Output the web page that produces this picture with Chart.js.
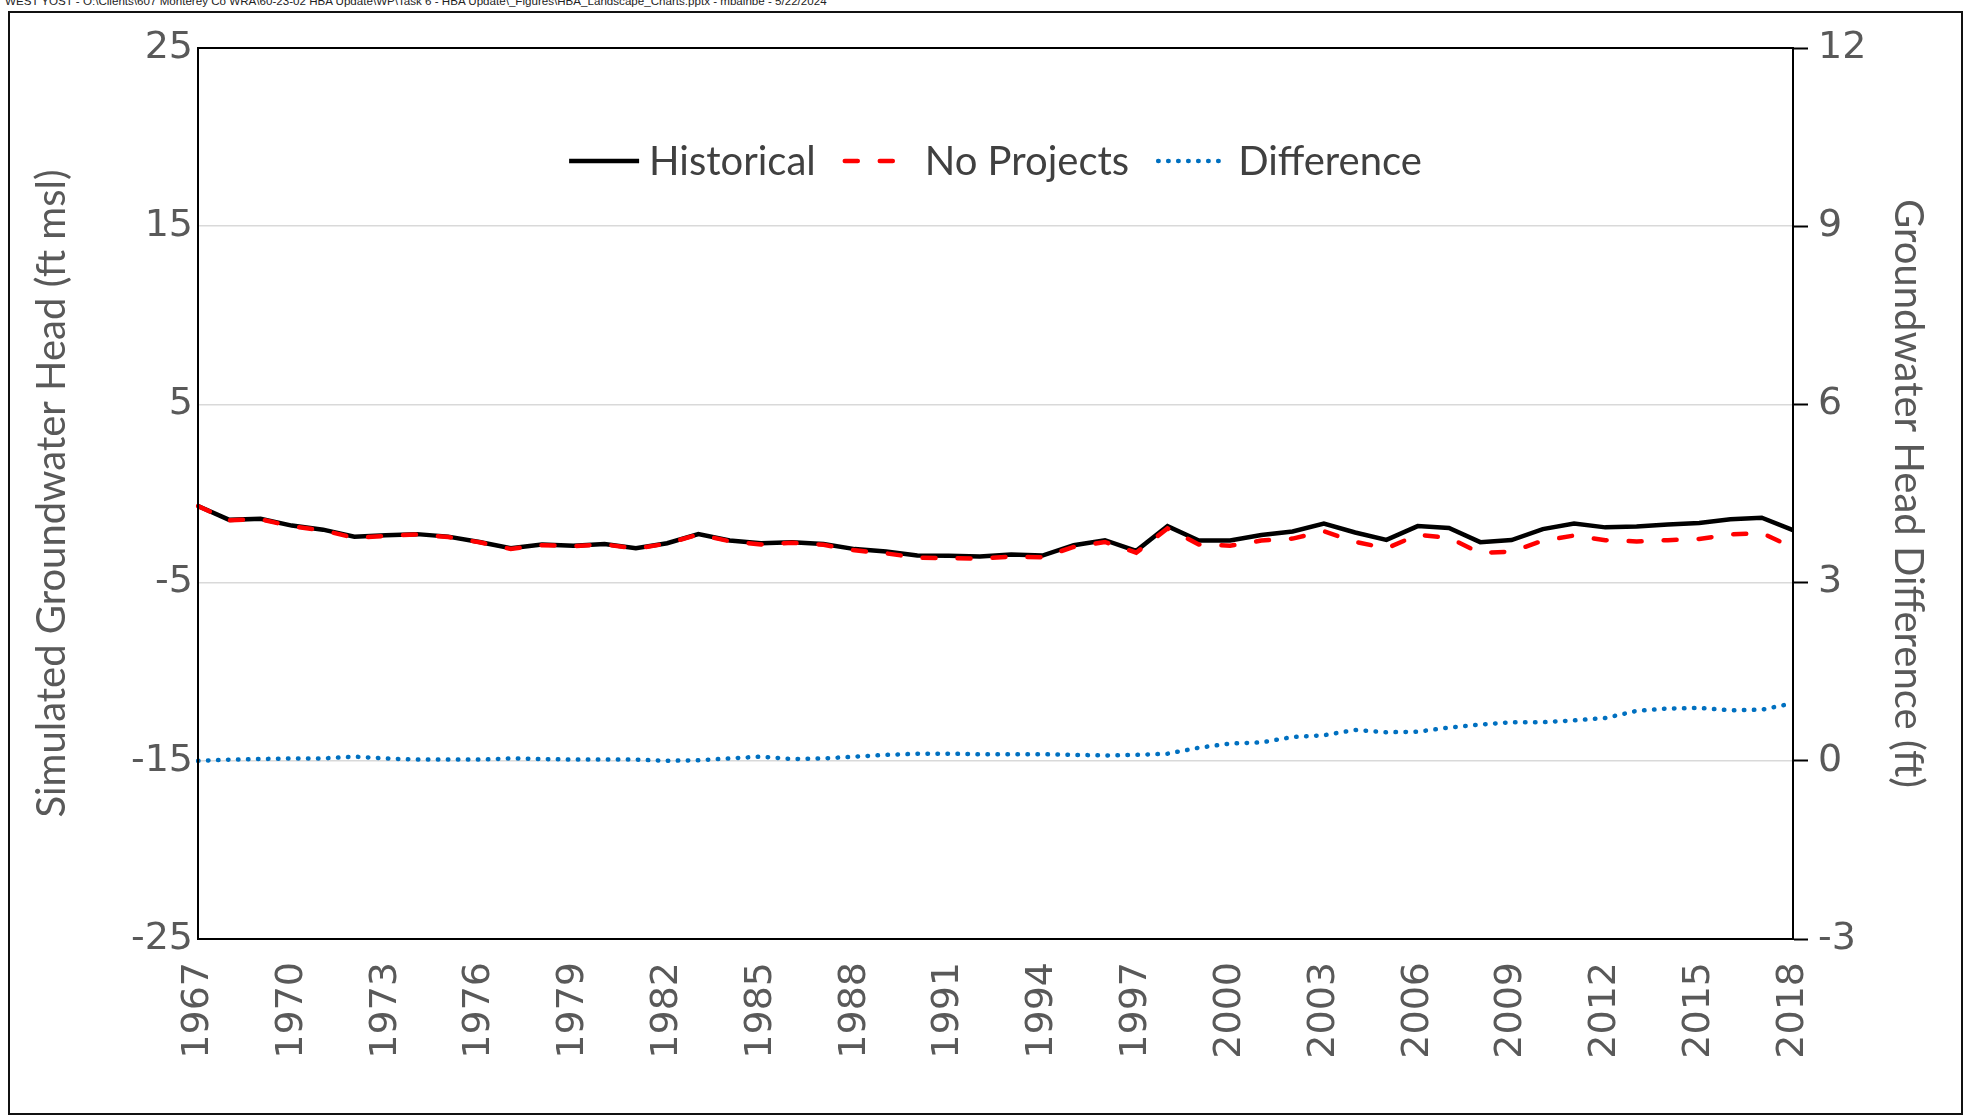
<!DOCTYPE html>
<html>
<head>
<meta charset="utf-8">
<title>Simulated Groundwater Head</title>
<script src="https://cdn.jsdelivr.net/npm/chart.js@4.4.1/dist/chart.umd.min.js"></script>
<style>
  body { margin: 0; background: #fff; }
  #page { position: relative; width: 1973px; height: 1120px; overflow: hidden; background: #fff; }
  #stamp { position: absolute; left: 5px; top: -6px; font: 11.6px "Liberation Sans Narrow", "Liberation Sans", sans-serif; color: #222; white-space: nowrap; }
  #frame { position: absolute; left: 8px; top: 11px; width: 1951px; height: 1100px; border: 2px solid #111; }
  #headChart { position: absolute; left: 0; top: 0; }
</style>
</head>
<body>
<div id="page">
  <div id="stamp">WEST YOST - O:\Clients\607 Monterey Co WRA\60-23-02 HBA Update\WP\Task 6 - HBA Update\_Figures\HBA_Landscape_Charts.pptx - mbainbe - 5/22/2024</div>
  <div id="frame"></div>
  <canvas id="headChart" width="1973" height="1120"></canvas>
</div>
<script>
// years of simulation
const years = ['1967', '1968', '1969', '1970', '1971', '1972', '1973', '1974', '1975', '1976',
  '1977', '1978', '1979', '1980', '1981', '1982', '1983', '1984', '1985', '1986',
  '1987', '1988', '1989', '1990', '1991', '1992', '1993', '1994', '1995', '1996',
  '1997', '1998', '1999', '2000', '2001', '2002', '2003', '2004', '2005', '2006',
  '2007', '2008', '2009', '2010', '2011', '2012', '2013', '2014', '2015', '2016',
  '2017', '2018'];

// simulated head, ft msl
const historical = [-0.70, -1.48, -1.42, -1.80, -2.03, -2.42, -2.34, -2.28, -2.42, -2.72,
  -3.07, -2.86, -2.93, -2.84, -3.07, -2.79, -2.28, -2.64, -2.79, -2.73,
  -2.84, -3.12, -3.26, -3.48, -3.50, -3.54, -3.43, -3.48, -2.90, -2.62,
  -3.22, -1.83, -2.64, -2.64, -2.33, -2.13, -1.69, -2.19, -2.60, -1.83,
  -1.93, -2.73, -2.61, -2.00, -1.68, -1.90, -1.85, -1.74, -1.66, -1.45,
  -1.36, -2.06];

const noProjects = [-0.71, -1.50, -1.45, -1.84, -2.07, -2.49, -2.38, -2.30, -2.44, -2.74,
  -3.11, -2.90, -2.95, -2.86, -3.09, -2.81, -2.30, -2.68, -2.86, -2.76,
  -2.88, -3.19, -3.36, -3.60, -3.63, -3.65, -3.54, -3.58, -3.00, -2.72,
  -3.32, -1.96, -2.86, -2.93, -2.64, -2.53, -2.12, -2.71, -3.08, -2.32,
  -2.49, -3.34, -3.26, -2.65, -2.36, -2.62, -2.69, -2.62, -2.55, -2.30,
  -2.22, -3.03];

// head difference, ft (right axis)
const difference = [0.00, 0.02, 0.03, 0.04, 0.04, 0.07, 0.04, 0.02, 0.02, 0.02,
  0.04, 0.03, 0.02, 0.02, 0.02, 0.00, 0.01, 0.04, 0.07, 0.03,
  0.04, 0.07, 0.10, 0.12, 0.12, 0.11, 0.11, 0.11, 0.10, 0.09,
  0.10, 0.12, 0.22, 0.29, 0.31, 0.40, 0.43, 0.52, 0.48, 0.49,
  0.56, 0.61, 0.65, 0.65, 0.68, 0.72, 0.84, 0.88, 0.89, 0.85,
  0.86, 0.97];

const xLabelStep = 3;

const tickFont = { family: 'DejaVu Sans', size: 38 };
const titleFont = { family: 'Lato', size: 40 };
const greyText = '#595959';

// чорна рамка навколо області графіка
const plotFrame = {
  id: 'plotFrame',
  afterDatasetsDraw(chart) {
    const { ctx, chartArea: a } = chart;
    ctx.save();
    ctx.strokeStyle = '#000';
    ctx.lineWidth = 2;
    ctx.strokeRect(a.left, a.top, a.right - a.left, a.bottom - a.top);
    ctx.restore();
  }
};

// легенда в один рядок всередині області графіка
const inlineLegend = {
  id: 'inlineLegend',
  afterDatasetsDraw(chart) {
    const { ctx, chartArea: a } = chart;
    const sample = 70, textGap = 10, itemGap = 29;
    ctx.save();
    ctx.font = titleFont.size + 'px ' + titleFont.family;
    const items = chart.data.datasets.map(ds => ({ ds, w: ctx.measureText(ds.label).width }));
    const total = items.reduce((s, it) => s + sample + textGap + it.w, 0) + itemGap * (items.length - 1);
    let x = (a.left + a.right) / 2 - total / 2;
    const y = a.top + 113;
    items.forEach(({ ds, w }) => {
      ctx.beginPath();
      ctx.setLineDash(ds.borderDash || []);
      ctx.lineCap = ds.borderCapStyle || 'butt';
      ctx.lineWidth = ds.borderWidth;
      ctx.strokeStyle = ds.borderColor;
      ctx.moveTo(x, y);
      ctx.lineTo(x + sample, y);
      ctx.stroke();
      ctx.setLineDash([]);
      ctx.fillStyle = '#404040';
      ctx.textBaseline = 'middle';
      ctx.textAlign = 'left';
      ctx.fillText(ds.label, x + sample + textGap, y + 1);
      x += sample + textGap + w + itemGap;
    });
    ctx.restore();
  }
};

const ctx = document.getElementById('headChart').getContext('2d');

let headChart = new Chart(ctx, {
  type: 'line',
  data: {
    labels: years,
    datasets: [
      {
        label: 'Historical',
        data: historical,
        yAxisID: 'y',
        borderColor: '#000',
        backgroundColor: '#000',
        borderWidth: 4.5,
        pointRadius: 0,
        order: 3
      },
      {
        label: 'No Projects',
        data: noProjects,
        yAxisID: 'y',
        borderColor: '#ff0000',
        backgroundColor: '#ff0000',
        borderWidth: 4.5,
        borderDash: [13, 22],
        borderCapStyle: 'round',
        pointRadius: 0,
        order: 1
      },
      {
        label: 'Difference',
        data: difference,
        yAxisID: 'y2',
        borderColor: '#0070c0',
        backgroundColor: '#0070c0',
        borderWidth: 4.5,
        borderDash: [0.5, 9.5],
        borderCapStyle: 'round',
        pointRadius: 0,
        order: 2
      }
    ]
  },
  options: {
    responsive: false,
    animation: false,
    devicePixelRatio: 1,
    layout: { padding: { top: 48, left: 0, right: 0, bottom: 0 } },
    plugins: {
      tooltip: { enabled: false },
      legend: { display: false }
    },
    scales: {
      x: {
        type: 'category',
        grid: { display: false },
        border: { display: true, color: '#000', width: 2 },
        ticks: {
          autoSkip: false,
          minRotation: 90,
          maxRotation: 90,
          padding: 15,
          color: greyText,
          font: tickFont,
          callback: function (val, idx) {
            return idx % xLabelStep === 0 ? this.getLabelForValue(val) : '';
          }
        },
        afterFit: (scale) => { scale.height = 181; }
      },
      y: {
        position: 'left',
        min: -25,
        max: 25,
        grid: { color: '#d9d9d9', lineWidth: 1.5, drawTicks: false },
        border: { display: true, color: '#000', width: 2 },
        ticks: { stepSize: 10, padding: 5, color: greyText, font: tickFont },
        title: {
          display: true,
          text: 'Simulated Groundwater Head (ft msl)',
          color: greyText,
          font: titleFont,
          padding: { top: 28, bottom: 0 }
        },
        afterFit: (scale) => { scale.width = 198; }
      },
      y2: {
        position: 'right',
        min: -3,
        max: 12,
        grid: {
          drawOnChartArea: false,
          drawTicks: true,
          tickLength: 15,
          tickColor: '#000',
          tickWidth: 2
        },
        border: { display: true, color: '#000', width: 2 },
        ticks: { stepSize: 3, padding: 10, color: greyText, font: tickFont },
        title: {
          display: true,
          text: 'Groundwater Head Difference (ft)',
          color: greyText,
          font: titleFont,
          padding: { top: 41, bottom: 0 }
        },
        afterFit: (scale) => { scale.width = 180; }
      }
    }
  },
  plugins: [plotFrame, inlineLegend]
});
</script>
</body>
</html>
